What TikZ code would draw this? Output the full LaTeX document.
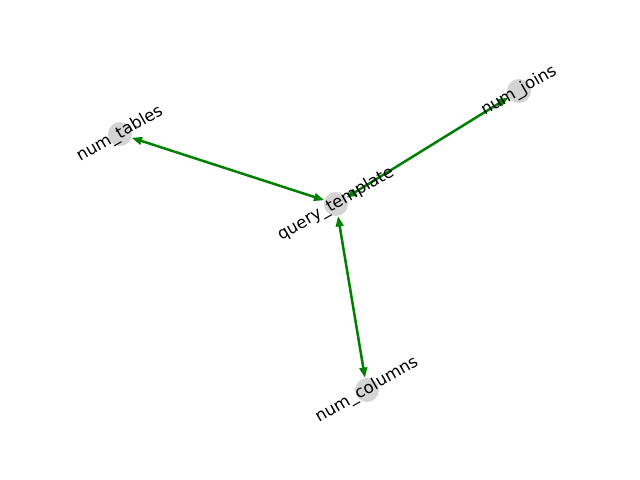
\documentclass[tikz,border=0pt]{standalone}
\usepackage{fontspec}
\setmainfont{DejaVu Sans}
\usetikzlibrary{arrows.meta}
\begin{document}
\begin{tikzpicture}[x=0.01in,y=-0.01in,
  vert/.style={circle,fill=black!17,minimum size=17.3pt,inner sep=0pt},
  lbl/.style={rotate=30,font=\fontsize{12}{14}\selectfont,inner sep=0pt},
  edge/.style={draw={rgb,255:red,0;green,128;blue,0},line width=1.8pt,
    {Triangle[length=7.5pt,width=5.5pt]}-{Triangle[length=7.5pt,width=5.5pt]}}]
\useasboundingbox (0,0) rectangle (640,480);
\node[vert] (t) at (120,134) {};
\node[vert] (q) at (336,204) {};
\node[vert] (j) at (519,91) {};
\node[vert] (c) at (367,390) {};
\draw[edge] (t) -- (q);
\draw[edge] (q) -- (j);
\draw[edge] (q) -- (c);
\node[lbl] (lt) at (120,134) {num\_tables};
\node[lbl] (lq) at (336,204) {query\_template};
\node[lbl] (lj) at (519,91) {num\_joins};
\node[lbl] (lc) at (367,390) {num\_columns};
\end{tikzpicture}
\end{document}
